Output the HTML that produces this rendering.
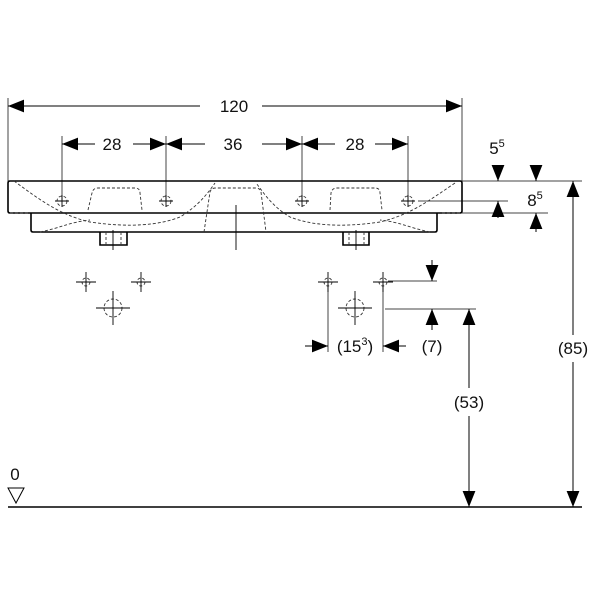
<!DOCTYPE html><html><head><style>body{margin:0;background:#fff}svg{display:block}text{font-family:"Liberation Sans",sans-serif;font-size:17px;fill:#111}</style></head><body>
<svg width="600" height="600" viewBox="0 0 600 600">
<defs><marker id="a" viewBox="0 0 10 10" refX="10" refY="5" markerWidth="16" markerHeight="16" markerUnits="userSpaceOnUse" orient="auto-start-reverse"><path d="M0,1L10,5L0,9Z" fill="#000"/></marker></defs>
<g stroke="#444" stroke-width="1" fill="none">
<line x1="8" y1="98" x2="8" y2="182"/><line x1="462" y1="98" x2="462" y2="182"/>
<line x1="62" y1="136" x2="62" y2="200"/><line x1="166" y1="136" x2="166" y2="200"/><line x1="302" y1="136" x2="302" y2="200"/><line x1="408" y1="136" x2="408" y2="200"/>
<line x1="462" y1="181" x2="582" y2="181"/><line x1="462" y1="213" x2="548" y2="213"/><line x1="418" y1="201" x2="508" y2="201"/>
<line x1="388" y1="281" x2="437" y2="281"/><line x1="385" y1="309" x2="476" y2="309"/>
<line x1="328" y1="284" x2="328" y2="352"/><line x1="383" y1="284" x2="383" y2="352"/>
</g>
<g stroke="#000" stroke-width="1" fill="none" marker-end="url(#a)">
<line x1="200" y1="106" x2="8" y2="106"/><line x1="262" y1="106" x2="462" y2="106"/>
<line x1="95" y1="144" x2="62" y2="144"/><line x1="133" y1="144" x2="166" y2="144"/>
<line x1="205" y1="144" x2="166" y2="144"/><line x1="262" y1="144" x2="302" y2="144"/>
<line x1="335" y1="144" x2="302" y2="144"/><line x1="375" y1="144" x2="408" y2="144"/>
<line x1="498" y1="166" x2="498" y2="181"/><line x1="498" y1="218" x2="498" y2="201"/>
<line x1="536" y1="166" x2="536" y2="181"/><line x1="536" y1="232" x2="536" y2="213"/>
<line x1="573" y1="335" x2="573" y2="181"/><line x1="573" y1="362" x2="573" y2="507"/>
<line x1="469" y1="388" x2="469" y2="309"/><line x1="469" y1="416" x2="469" y2="507"/>
<line x1="432" y1="260" x2="432" y2="281"/><line x1="432" y1="330" x2="432" y2="309"/>
<line x1="305" y1="346" x2="328" y2="346"/><line x1="406" y1="346" x2="383" y2="346"/>
</g>
<g fill="none" stroke="#000" stroke-width="1.6">
<path d="M10,181H460Q462,181 462,183V211Q462,213 460,213H10Q8,213 8,211V183Q8,181 10,181Z"/>
<path d="M31,213V230Q31,232 33,232H435Q437,232 437,230V213"/>
<path d="M100,232V245H127V232M343,232V245H369V232"/>
<line x1="8" y1="507" x2="582" y2="507"/>
</g>
<g fill="none" stroke="#333" stroke-width="0.9" stroke-dasharray="3,2">
<path d="M14,181C40,200 60,215 90,222C130,228 160,225 180,217C200,205 210,190 215,183"/>
<path d="M88,210L92,193Q93,188 98,188H135Q140,188 140,193L142,210"/>
<path d="M455,183C430,200 410,215 380,222C340,228 310,225 290,217C270,205 262,190 256,183"/>
<path d="M330,210L331,193Q332,188 337,188H375Q380,188 380,193L382,210"/>
<path d="M204,232L210,192Q211,188 216,188H256Q260,188 261,192L266,232"/>
<path d="M10,213H28M442,213H460M40,232C60,228 70,222 90,220M430,232C410,228 400,222 380,220"/>
<path d="M106,232V245M121,232V245M349,232V245M364,232V245"/>
<circle cx="113" cy="308" r="9"/><circle cx="355" cy="308" r="9"/>
<circle cx="86" cy="282" r="4"/><circle cx="141" cy="282" r="4"/><circle cx="328" cy="282" r="4"/><circle cx="383" cy="282" r="4"/>
<circle cx="62" cy="201" r="5"/><circle cx="166" cy="201" r="5"/><circle cx="302" cy="201" r="5"/><circle cx="408" cy="201" r="5"/>
</g>
<g stroke="#000" stroke-width="0.9">
<path d="M76,282H96M86,272V292M131,282H151M141,272V292M96,308H130M113,291V325"/>
<path d="M318,282H338M328,272V292M373,282H393M383,272V292M338,308H372M355,291V325"/>
<path d="M55,201H69M62,195V207M159,201H173M166,195V207M295,201H309M302,195V207M401,201H415M408,195V207"/>
<path d="M113,230V250M236,205V250M356,230V250"/>
</g>
<path d="M8,488H24L16,503Z" fill="none" stroke="#000"/>
<g text-anchor="middle">
<text x="234" y="112">120</text>
<text x="112" y="150">28</text><text x="233" y="150">36</text><text x="355" y="150">28</text>
<text x="497" y="154">5<tspan font-size="11" dy="-7">5</tspan></text>
<text x="535" y="206">8<tspan font-size="11" dy="-7">5</tspan></text>
<text x="573" y="354">(85)</text><text x="469" y="408">(53)</text><text x="432" y="352">(7)</text>
<text x="355" y="352">(15<tspan font-size="11" dy="-7">3</tspan><tspan dy="7">)</tspan></text>
<text x="15" y="480">0</text>
</g>
</svg></body></html>
